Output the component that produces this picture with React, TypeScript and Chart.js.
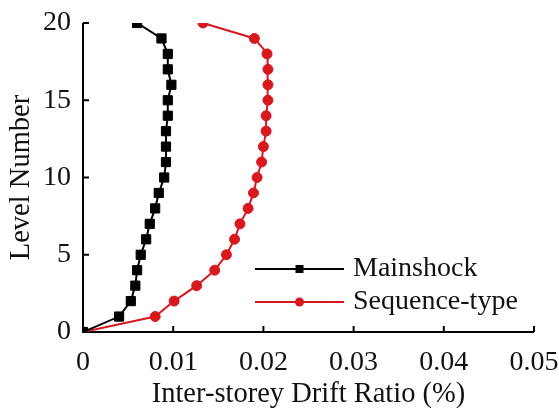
import React, { useEffect, useRef } from 'react';
import { Chart, registerables } from 'chart.js';

Chart.register(...registerables);

// Storey levels (0 = ground) and peak inter-storey drift ratios per level
const levels = [0, 1, 2, 3, 4, 5, 6, 7, 8, 9, 10, 11, 12, 13, 14, 15, 16, 17, 18, 19, 20];
const mainshock = [
  0, 0.004, 0.0053, 0.0058, 0.006, 0.0064, 0.007, 0.0074, 0.008, 0.0084, 0.009,
  0.0092, 0.0092, 0.0092, 0.0094, 0.0094, 0.0098, 0.0094, 0.0094, 0.0087, 0.006,
];
const sequenceType = [
  0, 0.008, 0.0101, 0.0126, 0.0146, 0.0159, 0.0168, 0.0174, 0.0183, 0.0189, 0.0193,
  0.0198, 0.02, 0.0203, 0.0203, 0.0205, 0.0205, 0.0205, 0.0204, 0.019, 0.0133,
];
const seriesNames = ['Mainshock', 'Sequence-type'];
const xTickValues = [0, 0.01, 0.02, 0.03, 0.04, 0.05];
const xTickLabels = ['0', '0.01', '0.02', '0.03', '0.04', '0.05'];
const yTickValues = [0, 5, 10, 15, 20];
const yTickLabels = ['0', '5', '10', '15', '20'];

const FONT = "'Liberation Serif', 'Times New Roman', serif";
const RED = '#d7191f';
const BLACK = '#000000';

// Axis lines with inward tick marks, plus a line-and-marker legend
const axesPlugin = {
  id: 'axesAndLegend',
  beforeDatasetsDraw(chart: any) {
    const { ctx, scales } = chart;
    const xs = scales.x;
    const ys = scales.y;
    const x0 = xs.getPixelForValue(0);
    const y0 = ys.getPixelForValue(0);
    const tick = 6;
    ctx.save();
    ctx.strokeStyle = BLACK;
    ctx.lineWidth = 2;
    ctx.beginPath();
    ctx.moveTo(x0, ys.getPixelForValue(20));
    ctx.lineTo(x0, y0);
    ctx.lineTo(xs.getPixelForValue(0.05), y0);
    ctx.stroke();
    ctx.beginPath();
    xTickValues.forEach((v) => {
      const px = xs.getPixelForValue(v);
      ctx.moveTo(px, y0);
      ctx.lineTo(px, y0 - tick);
    });
    yTickValues.forEach((v) => {
      const py = ys.getPixelForValue(v);
      ctx.moveTo(x0, py);
      ctx.lineTo(x0 + tick, py);
    });
    ctx.stroke();
    ctx.restore();
  },
  afterDatasetsDraw(chart: any) {
    const { ctx, chartArea } = chart;
    const left = chartArea.left + 172;
    const lineLen = 89;
    const rows = [chartArea.top + 246, chartArea.top + 279];
    ctx.save();
    chart.data.datasets.forEach((ds: any, i: number) => {
      const y = rows[i];
      ctx.strokeStyle = ds.borderColor;
      ctx.lineWidth = 2;
      ctx.beginPath();
      ctx.moveTo(left, y);
      ctx.lineTo(left + lineLen, y);
      ctx.stroke();
      const mx = left + lineLen / 2;
      ctx.fillStyle = ds.borderColor;
      if (ds.pointStyle === 'rect') {
        ctx.fillRect(mx - 4, y - 4, 8, 8);
      } else {
        ctx.beginPath();
        ctx.arc(mx, y, 4.5, 0, Math.PI * 2);
        ctx.fill();
      }
      ctx.fillStyle = '#111';
      ctx.font = `28px ${FONT}`;
      ctx.textAlign = 'left';
      ctx.textBaseline = 'middle';
      ctx.fillText(ds.label, left + lineLen + 9, y);
    });
    ctx.restore();
  },
};

export default function App() {
  const canvasRef = useRef<HTMLCanvasElement | null>(null);

  useEffect(() => {
    document.body.style.margin = '0';
    const canvas = canvasRef.current;
    if (!canvas) return;
    const chart = new Chart(canvas, {
      type: 'scatter',
      data: {
        datasets: [
          {
            label: seriesNames[0],
            data: levels.map((lv, i) => ({ x: mainshock[i], y: lv })),
            showLine: true,
            borderColor: BLACK,
            backgroundColor: BLACK,
            borderWidth: 2,
            pointStyle: 'rect',
            pointRadius: 6.5,
            pointBorderWidth: 1,
            pointHoverRadius: 6.5,
          },
          {
            label: seriesNames[1],
            data: levels.map((lv, i) => ({ x: sequenceType[i], y: lv })),
            showLine: true,
            borderColor: RED,
            backgroundColor: RED,
            borderWidth: 2,
            pointStyle: 'circle',
            pointRadius: 5,
            pointBorderWidth: 1,
            pointHoverRadius: 5,
          },
        ],
      },
      options: {
        animation: false,
        responsive: false,
        maintainAspectRatio: false,
        layout: { padding: { top: 23, right: 25, left: 0, bottom: 0 } },
        plugins: {
          legend: { display: false },
          tooltip: { enabled: false },
        },
        scales: {
          x: {
            type: 'linear',
            min: 0,
            max: 0.05,
            afterFit: (scale: any) => {
              scale.height = 76;
              scale.paddingLeft = 0;
              scale.paddingRight = 0;
            },
            afterBuildTicks: (scale: any) => {
              scale.ticks = xTickValues.map((v) => ({ value: v }));
            },
            grid: { display: false, drawTicks: false },
            border: { display: false },
            ticks: {
              color: '#111',
              font: { family: FONT, size: 28 },
              padding: 14,
              maxRotation: 0,
              callback: (_v: any, i: number) => xTickLabels[i],
            },
            title: {
              display: true,
              text: 'Inter-storey Drift Ratio (%)',
              color: '#111',
              font: { family: FONT, size: 28.5 },
              padding: { top: 0, bottom: -4 },
            },
          },
          y: {
            type: 'linear',
            min: 0,
            max: 20,
            afterFit: (scale: any) => {
              scale.width = 83;
              scale.paddingTop = 0;
              scale.paddingBottom = 0;
            },
            afterBuildTicks: (scale: any) => {
              scale.ticks = yTickValues.map((v) => ({ value: v }));
            },
            grid: { display: false, drawTicks: false },
            border: { display: false },
            ticks: {
              color: '#111',
              font: { family: FONT, size: 28 },
              padding: 12,
              callback: (_v: any, i: number) => yTickLabels[i],
            },
            title: {
              display: true,
              text: 'Level Number',
              color: '#111',
              font: { family: FONT, size: 28.5 },
              padding: { top: 4, bottom: 0 },
            },
          },
        },
      },
      plugins: [axesPlugin],
    });
    return () => chart.destroy();
  }, []);

  return (
    <div style={{ position: 'relative', width: 559, height: 408 }}>
      <canvas ref={canvasRef} width={559} height={408} style={{ display: 'block' }} />
    </div>
  );
}
